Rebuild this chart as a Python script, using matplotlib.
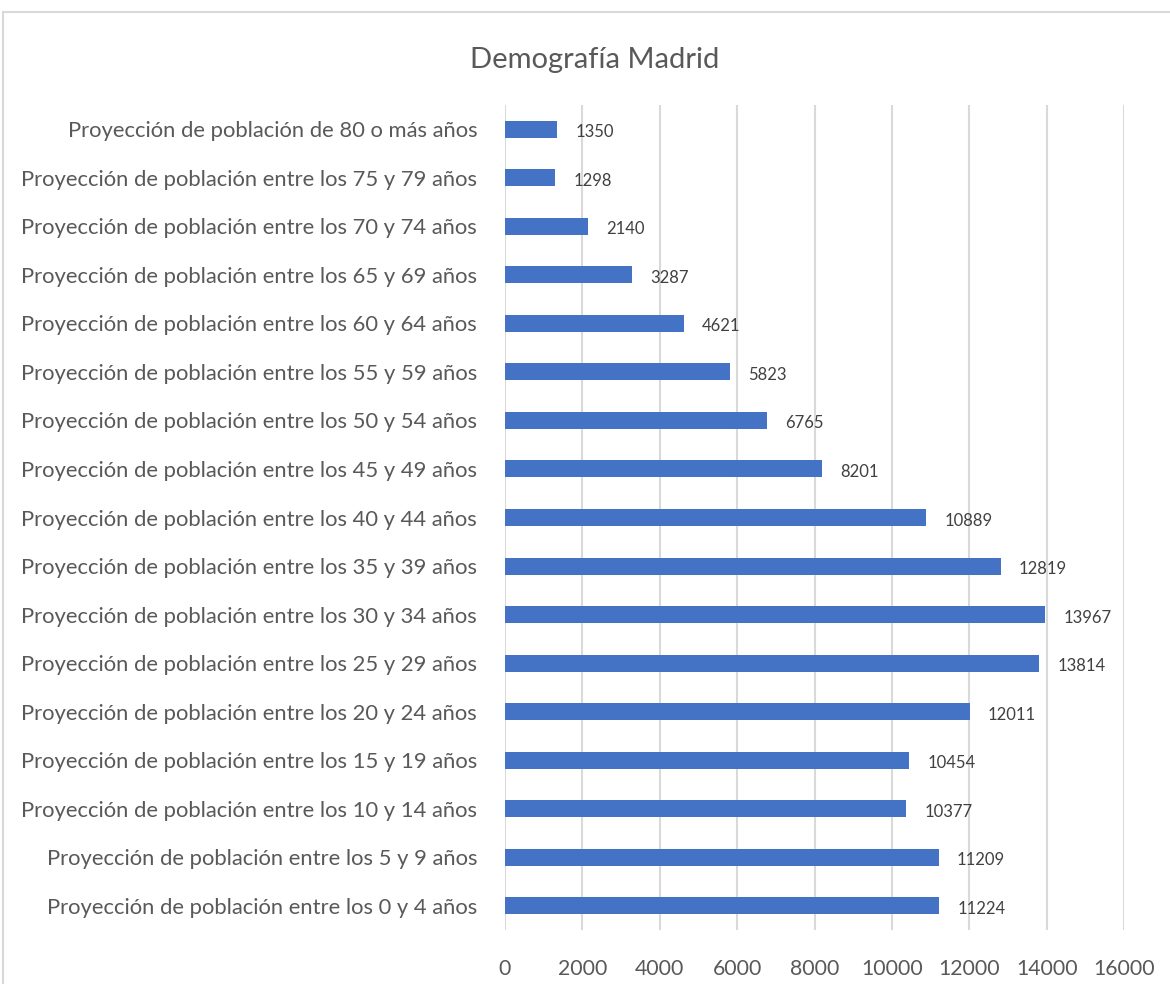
import matplotlib.pyplot as plt
from matplotlib.patches import Rectangle

# datos (de abajo hacia arriba)
categorias = [
    "Proyección de población entre los 0 y 4 años",
    "Proyección de población entre los 5 y 9 años",
    "Proyección de población entre los 10 y 14 años",
    "Proyección de población entre los 15 y 19 años",
    "Proyección de población entre los 20 y 24 años",
    "Proyección de población entre los 25 y 29 años",
    "Proyección de población entre los 30 y 34 años",
    "Proyección de población entre los 35 y 39 años",
    "Proyección de población entre los 40 y 44 años",
    "Proyección de población entre los 45 y 49 años",
    "Proyección de población entre los 50 y 54 años",
    "Proyección de población entre los 55 y 59 años",
    "Proyección de población entre los 60 y 64 años",
    "Proyección de población entre los 65 y 69 años",
    "Proyección de población entre los 70 y 74 años",
    "Proyección de población entre los 75 y 79 años",
    "Proyección de población de 80 o más años",
]
valores = [11224, 11209, 10377, 10454, 12011, 13814, 13967, 12819,
           10889, 8201, 6765, 5823, 4621, 3287, 2140, 1298, 1350]
ticks_x = [0, 2000, 4000, 6000, 8000, 10000, 12000, 14000, 16000]

plt.rcParams['font.family'] = ['Lato', 'DejaVu Sans']
gris = "#595959"

fig = plt.figure(figsize=(11.7, 9.84), dpi=100)
# marco del grafico
fig.patches.append(Rectangle((3 / 1170, -0.1), 1.2, 1 - 12 / 984 + 0.1,
                             transform=fig.transFigure, fill=False,
                             edgecolor="#d9d9d9", linewidth=1.5))

ax = fig.add_axes([505 / 1170, 1 - 930 / 984, 619 / 1170, 825 / 984])
y = list(range(len(categorias)))
barras = ax.barh(y, valores, height=0.35, color="#4472C4", zorder=3)

for b, v in zip(barras, valores):
    ax.annotate(str(v), (b.get_width(), b.get_y() + b.get_height() / 2),
                xytext=(18, -3), textcoords="offset pixels",
                ha="left", va="center", fontsize=12, color="#404040")

ax.set_xlim(0, 16000)
ax.set_ylim(-0.5, len(categorias) - 0.5)
ax.set_xticks(ticks_x)
ax.set_xticklabels([str(t) for t in ticks_x], fontsize=15.3, color=gris)
ax.set_yticks(y)
ax.set_yticklabels(categorias, fontsize=15.8, color=gris)
ax.tick_params(axis="both", length=0)
ax.tick_params(axis="x", pad=21)
ax.tick_params(axis="y", pad=20)
ax.grid(axis="x", color="#d9d9d9", linewidth=1.5, zorder=0)
for s in ax.spines.values():
    s.set_visible(False)

fig.text(595 / 1170, 1 - 60 / 984, "Demografía Madrid", ha="center", va="center",
         fontsize=21, color=gris)

fig.savefig("out.png", dpi=100)
